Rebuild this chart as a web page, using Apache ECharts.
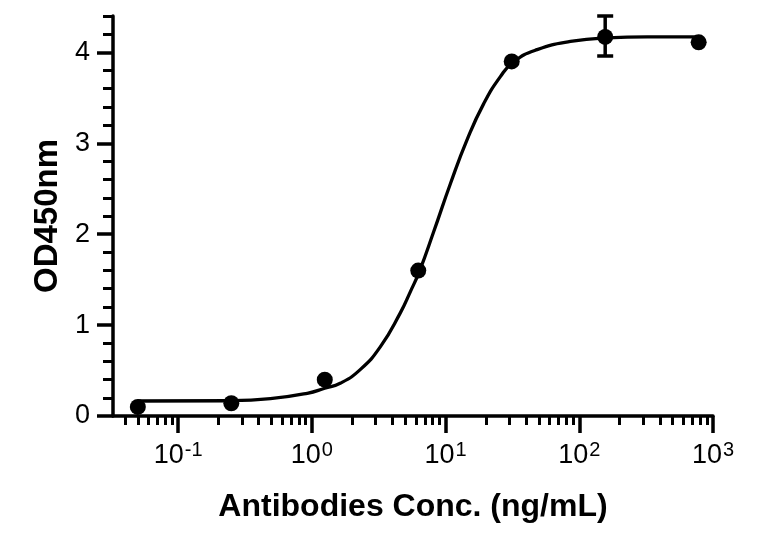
<!DOCTYPE html>
<html>
<head>
<meta charset="utf-8">
<script src="https://cdn.jsdelivr.net/npm/echarts@6/dist/echarts.min.js"></script>
<style>
html,body{margin:0;padding:0;background:#fff;}
#chart{width:757px;height:533px;}
</style>
</head>
<body>
<div id="chart"></div>
<script>
// ---- data (concentrations in ng/mL, OD450nm) ----
const pointConc = [0.05, 0.25, 1.25, 6.25, 31.25, 156.25, 781.25];
const pointOD   = [0.10, 0.14, 0.40, 1.60, 3.90, 4.17, 4.11];
const errConc   = [156.25];
const errLow    = [3.96];
const errHigh   = [4.40];
// fitted curve
const curveConc = [0.05, 0.245, 0.49, 0.925, 1.25, 1.63, 2.30, 3.25, 4.59, 5.45, 6.40, 8.15, 10.87, 14.5, 19.3, 25.7, 32.4, 48.4, 85.9, 162, 322, 781.25];
const curveOD   = [0.165, 0.168, 0.19, 0.25, 0.305, 0.36, 0.51, 0.760, 1.134, 1.366, 1.597, 2.026, 2.555, 3.04, 3.436, 3.733, 3.899, 4.03, 4.12, 4.16, 4.17, 4.17];
// axes
const xMinConc = 0.0326, xMaxConc = 1000;
const yMin = 0, yMax = 4.4;
const xMajorTicks = [0.1, 1, 10, 100, 1000];
const xMinorTicks = [0.04,0.05,0.06,0.07,0.08,0.09,
                     0.2,0.3,0.4,0.5,0.6,0.7,0.8,0.9,
                     2,3,4,5,6,7,8,9,
                     20,30,40,50,60,70,80,90,
                     200,300,400,500,600,700,800,900];
const yMajorTicks = [0, 1, 2, 3, 4];
const yMinorTicks = [0.2,0.4,0.6,0.8,1.2,1.4,1.6,1.8,2.2,2.4,2.6,2.8,3.2,3.4,3.6,3.8,4.2,4.4];
const xTitle = 'Antibodies Conc. (ng/mL)';
const yTitle = 'OD450nm';

const L = Math.log10;
const FONT = "'Liberation Sans', Arial, Helvetica, sans-serif";
const chart = echarts.init(document.getElementById('chart'), null, {renderer: 'canvas'});

const axisLineStyle = {color: '#000', width: 3.5};
const commonX = {
  type: 'value', min: L(xMinConc), max: L(xMaxConc), position: 'bottom',
  splitLine: {show: false}, axisLine: {onZero: false}
};
const commonY = {
  type: 'value', min: yMin, max: yMax, position: 'left',
  splitLine: {show: false}, axisLine: {onZero: false}
};

const option = {
  animation: false,
  backgroundColor: '#fff',
  grid: {left: 113, right: 44, top: 16, bottom: 117, containLabel: false},
  xAxis: [
    Object.assign({}, commonX, {
      axisLine: {show: true, onZero: false, lineStyle: axisLineStyle},
      axisTick: {show: true, length: 17, lineStyle: {color: '#000', width: 3.5},
                 customValues: xMajorTicks.map(L)},
      axisLabel: {show: true, margin: 23, color: '#000',
        customValues: xMajorTicks.map(L),
        formatter: function (v) { return '{b|10}{s|' + Math.round(v) + '}'; },
        rich: {
          b: {fontFamily: FONT, fontSize: 27, color: '#000', lineHeight: 30, verticalAlign: 'bottom'},
          s: {fontFamily: FONT, fontSize: 20, color: '#000', lineHeight: 20, padding: [0,0,9,1], verticalAlign: 'bottom'}
        }},
      name: xTitle, nameLocation: 'middle', nameGap: 75,
      nameTextStyle: {fontFamily: FONT, fontSize: 32, fontWeight: 'bold', color: '#000'}
    }),
    Object.assign({}, commonX, {
      axisLine: {show: false, onZero: false},
      axisTick: {show: true, length: 9, lineStyle: {color: '#000', width: 3},
                 customValues: xMinorTicks.map(L)},
      axisLabel: {show: false}
    })
  ],
  yAxis: [
    Object.assign({}, commonY, {
      axisLine: {show: true, onZero: false, lineStyle: axisLineStyle},
      axisTick: {show: true, length: 16, lineStyle: {color: '#000', width: 3.5},
                 customValues: yMajorTicks},
      axisLabel: {show: true, margin: 23, color: '#000', fontFamily: FONT, fontSize: 27,
                  customValues: yMajorTicks},
      name: yTitle, nameLocation: 'middle', nameGap: 49,
      nameTextStyle: {fontFamily: FONT, fontSize: 33, fontWeight: 'bold', color: '#000'}
    }),
    Object.assign({}, commonY, {
      axisLine: {show: false, onZero: false},
      axisTick: {show: true, length: 10, lineStyle: {color: '#000', width: 3},
                 customValues: yMinorTicks},
      axisLabel: {show: false}
    })
  ],
  series: [
    {
      type: 'line', name: 'fit', xAxisIndex: 0, yAxisIndex: 0,
      data: curveConc.map((c, i) => [L(c), curveOD[i]]),
      smooth: 0.5, showSymbol: false, symbol: 'none',
      lineStyle: {color: '#000', width: 3.3}, z: 2
    },
    {
      type: 'custom', name: 'error', xAxisIndex: 0, yAxisIndex: 0,
      data: errConc.map((c, i) => [L(c), errLow[i], errHigh[i]]),
      renderItem: function (params, api) {
        const x = api.value(0);
        const lo = api.coord([x, api.value(1)]);
        const hi = api.coord([x, api.value(2)]);
        const hw = 8;
        const st = {stroke: '#000', lineWidth: 3.5};
        return {type: 'group', children: [
          {type: 'line', shape: {x1: lo[0], y1: lo[1], x2: hi[0], y2: hi[1]}, style: st},
          {type: 'line', shape: {x1: hi[0]-hw, y1: hi[1], x2: hi[0]+hw, y2: hi[1]}, style: st},
          {type: 'line', shape: {x1: lo[0]-hw, y1: lo[1], x2: lo[0]+hw, y2: lo[1]}, style: st}
        ]};
      },
      z: 3
    },
    {
      type: 'scatter', name: 'points', xAxisIndex: 0, yAxisIndex: 0,
      data: pointConc.map((c, i) => [L(c), pointOD[i]]),
      symbol: 'circle', symbolSize: 16,
      itemStyle: {color: '#000', opacity: 1}, z: 4
    }
  ]
};
chart.setOption(option);
</script>
</body>
</html>
